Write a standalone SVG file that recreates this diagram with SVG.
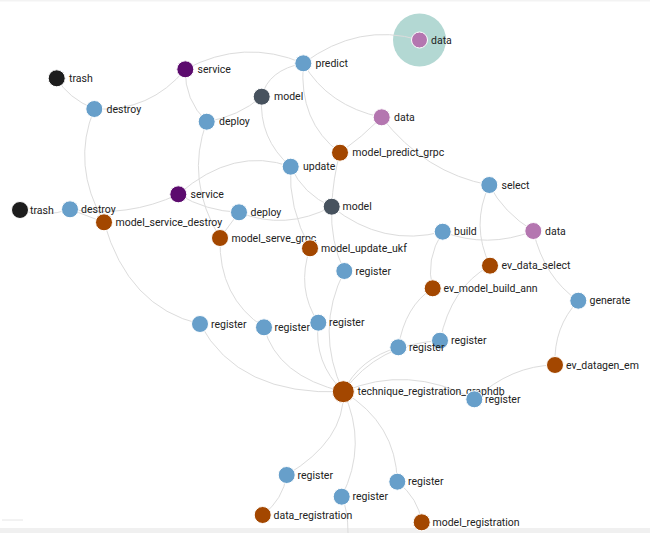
<svg xmlns="http://www.w3.org/2000/svg" width="650" height="533" viewBox="0 0 650 533">
<style>
.e{fill:none;stroke:#dcdcdc;stroke-width:1}
.n{stroke:#ffffff;stroke-width:1}
.act{fill:#679fca}
.tech{fill:#a34700}
.svc{fill:#5c0b6e}
.trash{fill:#1d1d1d}
.model{fill:#47525e}
.data{fill:#b476b0}
text{font-family:Roboto,"Liberation Sans",sans-serif;font-size:10.5px;fill:#222}
</style>
<rect x="0" y="0" width="650" height="533" fill="#ffffff"/>
<rect x="0" y="0" width="650" height="1.5" fill="#f3f3f3"/>
<rect x="0" y="528" width="650" height="5" fill="#f0f0f0"/>
<line x1="2" y1="520" x2="23" y2="520" stroke="#e6e6e6" stroke-width="1"/>
<circle id="halo" cx="419.5" cy="40" r="26.5" fill="#b3d8d3"/>
<g id="connectors">
<path class="e" d="M56.7,78.3 Q68,98 94.3,109"/>
<path class="e" d="M94.3,109 Q150,112 185.3,69.3"/>
<path class="e" d="M94.3,109 Q71,165 104,222.3"/>
<path class="e" d="M185.3,69.3 Q184.5,100 206.7,121.7"/>
<path class="e" d="M185.3,69.3 Q244,38 303.3,63.3"/>
<path class="e" d="M303.3,63.3 Q359,22 419.5,40"/>
<path class="e" d="M303.3,63.3 Q268,70 261.7,96.7"/>
<path class="e" d="M303.3,63.3 Q328,106 381.7,117.3"/>
<path class="e" d="M303.3,63.3 Q298.5,122 340,152.7"/>
<path class="e" d="M381.7,117.3 Q362,137 340,152.7"/>
<path class="e" d="M381.7,117.3 Q425,173 489.3,185"/>
<path class="e" d="M261.7,96.7 Q238.5,116.5 206.7,121.7"/>
<path class="e" d="M261.7,96.7 Q258.5,138.5 290.7,166.7"/>
<path class="e" d="M206.7,121.7 Q185,180 220,238"/>
<path class="e" d="M178.3,194.3 Q234,146 290.7,166.7"/>
<path class="e" d="M178.3,194.3 Q206,211 239,212.3"/>
<path class="e" d="M239,212.3 Q285,231 331.7,206.7"/>
<path class="e" d="M290.7,166.7 Q303,194 331.7,206.7"/>
<path class="e" d="M290.7,166.7 Q288,207 310,248.3"/>
<path class="e" d="M340,152.7 Q333,178 331.7,206.7"/>
<path class="e" d="M331.7,206.7 Q330,241.5 344.3,271"/>
<path class="e" d="M331.7,206.7 Q383,247.5 442.7,231.7"/>
<path class="e" d="M442.7,231.7 Q487,249 533.3,231"/>
<path class="e" d="M489.3,185 Q503,212 533.3,231"/>
<path class="e" d="M489.3,185 Q470.5,225 490,265.7"/>
<path class="e" d="M442.7,231.7 Q425,260 432.7,288.3"/>
<path class="e" d="M533.3,231 Q544.5,278 578.3,300.7"/>
<path class="e" d="M578.3,300.7 Q553.5,327 555,365"/>
<path class="e" d="M555,365 Q511.5,365.5 474.3,399.3"/>
<path class="e" d="M490,265.7 Q451,287 440,340.7"/>
<path class="e" d="M432.7,288.3 Q405,306 398.3,347.3"/>
<path class="e" d="M474.3,399.3 Q408,364 343.3,391.7"/>
<path class="e" d="M440,340.7 Q378.5,343.5 343.3,391.7"/>
<path class="e" d="M398.3,347.3 Q359.5,358.5 343.3,391.7"/>
<path class="e" d="M344.3,271 Q314.5,330.5 343.3,391.7"/>
<path class="e" d="M318.3,322.7 Q313.5,362.5 343.3,391.7"/>
<path class="e" d="M264,327.3 Q277,376 343.3,391.7"/>
<path class="e" d="M200,324 Q238.5,396 343.3,391.7"/>
<path class="e" d="M343.3,391.7 Q345,440 286.7,475"/>
<path class="e" d="M343.3,391.7 Q368,444 341.7,496.7"/>
<path class="e" d="M343.3,391.7 Q396,423.5 397.3,481.7"/>
<path class="e" d="M286.7,475 Q283,499.5 262.7,515"/>
<path class="e" d="M397.3,481.7 Q418.5,498.5 421.7,522.3"/>
<path class="e" d="M341.7,496.7 Q348,510 348,533"/>
<path class="e" d="M70,209.3 Q44,218 20,210"/>
<path class="e" d="M70,209.3 L104,222.3"/>
<path class="e" d="M70,209.3 Q128,218 178.3,194.3"/>
<path class="e" d="M104,222.3 Q128,307 200,324"/>
<path class="e" d="M220,238 Q218.5,297.5 264,327.3"/>
<path class="e" d="M220,238 L239,212.3"/>
<path class="e" d="M310,248.3 Q296,288.5 318.3,322.7"/>
</g>
<g id="n-data-0"><circle class="n data" cx="419.5" cy="40" r="8"/><text x="431" y="44">data</text></g>
<g id="n-predict"><circle class="n act" cx="303.3" cy="63.3" r="8.5"/><text x="315.5" y="67">predict</text></g>
<g id="n-service-1"><circle class="n svc" cx="185.3" cy="69.3" r="8.5"/><text x="197.5" y="73">service</text></g>
<g id="n-trash-1"><circle class="n trash" cx="56.7" cy="78.3" r="8.5"/><text x="69" y="82">trash</text></g>
<g id="n-destroy-1"><circle class="n act" cx="94.3" cy="109" r="8.5"/><text x="106.5" y="112.7">destroy</text></g>
<g id="n-model-1"><circle class="n model" cx="261.7" cy="96.7" r="8.5"/><text x="274" y="100.4">model</text></g>
<g id="n-deploy-1"><circle class="n act" cx="206.7" cy="121.7" r="8.5"/><text x="219" y="125.4">deploy</text></g>
<g id="n-data-1"><circle class="n data" cx="381.7" cy="117.3" r="8.5"/><text x="394" y="121">data</text></g>
<g id="n-model_predict_grpc"><circle class="n tech" cx="340" cy="152.7" r="8.5"/><text x="352.3" y="156.4">model_predict_grpc</text></g>
<g id="n-update"><circle class="n act" cx="290.7" cy="166.7" r="8.5"/><text x="303" y="170.4">update</text></g>
<g id="n-select"><circle class="n act" cx="489.3" cy="185" r="8.5"/><text x="501.5" y="188.7">select</text></g>
<g id="n-service-2"><circle class="n svc" cx="178.3" cy="194.3" r="8.5"/><text x="190.5" y="198">service</text></g>
<g id="n-trash-2"><circle class="n trash" cx="20" cy="210" r="8.5"/><text x="30" y="213.7">trash</text></g>
<g id="n-destroy-2"><circle class="n act" cx="70" cy="209.3" r="8.5"/><text x="81" y="213">destroy</text></g>
<g id="n-model_service_destroy"><circle class="n tech" cx="104" cy="222.3" r="8.5"/><text x="115.5" y="226">model_service_destroy</text></g>
<g id="n-deploy-2"><circle class="n act" cx="239" cy="212.3" r="8.5"/><text x="250.5" y="216">deploy</text></g>
<g id="n-model-2"><circle class="n model" cx="331.7" cy="206.7" r="8.5"/><text x="342.5" y="210.4">model</text></g>
<g id="n-model_serve_grpc"><circle class="n tech" cx="220" cy="238" r="8.5"/><text x="231.5" y="241.7">model_serve_grpc</text></g>
<g id="n-model_update_ukf"><circle class="n tech" cx="310" cy="248.3" r="8.5"/><text x="321" y="252">model_update_ukf</text></g>
<g id="n-build"><circle class="n act" cx="442.7" cy="231.7" r="8.5"/><text x="454" y="235.4">build</text></g>
<g id="n-data-2"><circle class="n data" cx="533.3" cy="231" r="8.5"/><text x="545" y="234.7">data</text></g>
<g id="n-register-1"><circle class="n act" cx="344.3" cy="271" r="8.5"/><text x="355.5" y="274.7">register</text></g>
<g id="n-ev_data_select"><circle class="n tech" cx="490" cy="265.7" r="8.5"/><text x="501.5" y="269.4">ev_data_select</text></g>
<g id="n-ev_model_build_ann"><circle class="n tech" cx="432.7" cy="288.3" r="8.5"/><text x="443.5" y="292">ev_model_build_ann</text></g>
<g id="n-generate"><circle class="n act" cx="578.3" cy="300.7" r="8.5"/><text x="589.5" y="304.4">generate</text></g>
<g id="n-register-2"><circle class="n act" cx="200" cy="324" r="8.5"/><text x="211" y="327.7">register</text></g>
<g id="n-register-3"><circle class="n act" cx="264" cy="327.3" r="8.5"/><text x="274.5" y="331">register</text></g>
<g id="n-register-4"><circle class="n act" cx="318.3" cy="322.7" r="8.5"/><text x="329" y="326.4">register</text></g>
<g id="n-register-5"><circle class="n act" cx="440" cy="340.7" r="8.5"/><text x="451" y="344.4">register</text></g>
<g id="n-register-6"><circle class="n act" cx="398.3" cy="347.3" r="8.5"/><text x="409" y="351">register</text></g>
<g id="n-ev_datagen_em"><circle class="n tech" cx="555" cy="365" r="8.5"/><text x="566" y="368.7">ev_datagen_em</text></g>
<g id="n-technique_registration_graphdb"><circle class="n tech" cx="343.3" cy="391.7" r="11"/><text x="357.5" y="395.4">technique_registration_graphdb</text></g>
<g id="n-register-7"><circle class="n act" cx="474.3" cy="399.3" r="8.5"/><text x="485" y="403">register</text></g>
<g id="n-register-8"><circle class="n act" cx="286.7" cy="475" r="8.5"/><text x="297.5" y="478.7">register</text></g>
<g id="n-register-9"><circle class="n act" cx="397.3" cy="481.7" r="8.5"/><text x="408" y="485.4">register</text></g>
<g id="n-register-10"><circle class="n act" cx="341.7" cy="496.7" r="8.5"/><text x="352.5" y="500.4">register</text></g>
<g id="n-data_registration"><circle class="n tech" cx="262.7" cy="515" r="8.5"/><text x="273.5" y="518.7">data_registration</text></g>
<g id="n-model_registration"><circle class="n tech" cx="421.7" cy="522.3" r="8.5"/><text x="432.5" y="526">model_registration</text></g>
</svg>
